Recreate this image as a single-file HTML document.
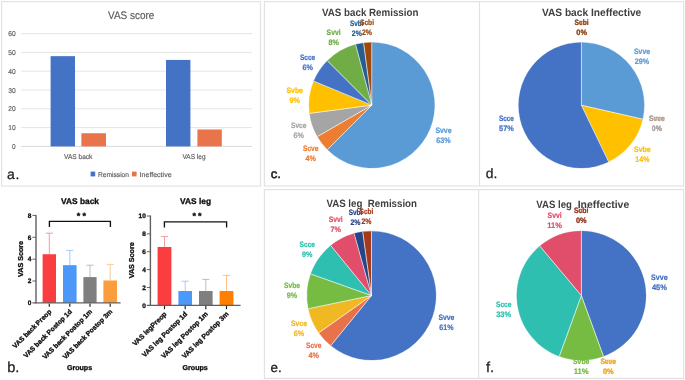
<!DOCTYPE html>
<html lang="en">
<head>
<meta charset="utf-8">
<title>VAS score figure</title>
<style>
html,body{margin:0;padding:0;background:#fff;}
body{width:685px;height:380px;overflow:hidden;}
svg{display:block;font-family:"Liberation Sans", Arial, sans-serif;}
.bt text{stroke:#0d0d0d;stroke-width:0.3px;fill:#0d0d0d;}
.at text{stroke:#595959;stroke-width:0.15px;}
</style>
</head>
<body>
<svg width="685" height="380" viewBox="0 0 685 380" text-rendering="geometricPrecision">
<rect width="685" height="380" fill="#ffffff"/>
<g fill="none" stroke="#e2e2e2" stroke-width="1.15">
<rect x="1.6" y="1.6" width="258.9" height="184.5"/>
<rect x="264.4" y="1.6" width="419.2" height="184.4"/>
<line x1="479.5" y1="1.6" x2="479.5" y2="186"/>
<rect x="264.4" y="189.6" width="419.2" height="188.8"/>
<line x1="478.6" y1="189.6" x2="478.6" y2="378.4"/>
</g>
<g id="panel-a" class="at">
<text x="131.20" y="19.00" font-size="11" fill="#595959" text-anchor="middle" textLength="46.40" lengthAdjust="spacingAndGlyphs">VAS score</text>
<line x1="21.00" y1="146.40" x2="252.00" y2="146.40" stroke="#d6d6d6" stroke-width="0.9"/>
<text x="15.60" y="148.90" font-size="7" fill="#595959" text-anchor="end" textLength="3.60" lengthAdjust="spacingAndGlyphs">0</text>
<line x1="21.00" y1="127.60" x2="252.00" y2="127.60" stroke="#e2e2e2" stroke-width="0.9"/>
<text x="15.60" y="130.10" font-size="7" fill="#595959" text-anchor="end" textLength="7.40" lengthAdjust="spacingAndGlyphs">10</text>
<line x1="21.00" y1="108.80" x2="252.00" y2="108.80" stroke="#e2e2e2" stroke-width="0.9"/>
<text x="15.60" y="111.30" font-size="7" fill="#595959" text-anchor="end" textLength="7.40" lengthAdjust="spacingAndGlyphs">20</text>
<line x1="21.00" y1="90.00" x2="252.00" y2="90.00" stroke="#e2e2e2" stroke-width="0.9"/>
<text x="15.60" y="92.50" font-size="7" fill="#595959" text-anchor="end" textLength="7.40" lengthAdjust="spacingAndGlyphs">30</text>
<line x1="21.00" y1="71.20" x2="252.00" y2="71.20" stroke="#e2e2e2" stroke-width="0.9"/>
<text x="15.60" y="73.70" font-size="7" fill="#595959" text-anchor="end" textLength="7.40" lengthAdjust="spacingAndGlyphs">40</text>
<line x1="21.00" y1="52.40" x2="252.00" y2="52.40" stroke="#e2e2e2" stroke-width="0.9"/>
<text x="15.60" y="54.90" font-size="7" fill="#595959" text-anchor="end" textLength="7.40" lengthAdjust="spacingAndGlyphs">50</text>
<line x1="21.00" y1="33.60" x2="252.00" y2="33.60" stroke="#e2e2e2" stroke-width="0.9"/>
<text x="15.60" y="36.10" font-size="7" fill="#595959" text-anchor="end" textLength="7.40" lengthAdjust="spacingAndGlyphs">60</text>
<rect x="50.60" y="56.16" width="24.40" height="90.24" fill="#4472C4"/>
<rect x="81.40" y="133.24" width="24.60" height="13.16" fill="#E9734A"/>
<rect x="166.00" y="59.92" width="24.40" height="86.48" fill="#4472C4"/>
<rect x="197.40" y="129.48" width="24.40" height="16.92" fill="#E9734A"/>
<text x="78.20" y="159.00" font-size="7" fill="#595959" text-anchor="middle" textLength="28.40" lengthAdjust="spacingAndGlyphs">VAS back</text>
<text x="194.00" y="159.00" font-size="7" fill="#595959" text-anchor="middle" textLength="23.00" lengthAdjust="spacingAndGlyphs">VAS leg</text>
<rect x="90.60" y="171.60" width="4.60" height="4.80" fill="#4472C4"/>
<text x="98.00" y="176.50" font-size="7" fill="#595959" textLength="31.00" lengthAdjust="spacingAndGlyphs">Remission</text>
<rect x="132.00" y="171.60" width="4.60" height="4.80" fill="#E9734A"/>
<text x="139.60" y="176.50" font-size="7" fill="#595959" textLength="32.00" lengthAdjust="spacingAndGlyphs">Ineffective</text>
</g>
<text x="7.1" y="178.7" font-size="14" fill="#1a1a1a" textLength="12.3" lengthAdjust="spacing" stroke="#1a1a1a" stroke-width="0.25">a.</text>
<g id="panel-b"><g class="bt">
<text x="80.00" y="204.00" font-size="8.3" fill="#1a1a1a" font-weight="bold" text-anchor="middle" textLength="38.00" lengthAdjust="spacingAndGlyphs">VAS back</text>
<line x1="49.30" y1="233.20" x2="49.30" y2="254.23" stroke="#F68086" stroke-width="0.8"/>
<line x1="45.70" y1="233.20" x2="52.90" y2="233.20" stroke="#F68086" stroke-width="0.8"/>
<rect x="42.60" y="254.23" width="13.40" height="48.67" fill="#FA3E40"/>
<line x1="49.30" y1="303.40" x2="49.30" y2="306.80" stroke="#1c1c1c" stroke-width="1.15"/>
<line x1="69.80" y1="250.40" x2="69.80" y2="265.17" stroke="#8FBFFA" stroke-width="0.8"/>
<line x1="66.20" y1="250.40" x2="73.40" y2="250.40" stroke="#8FBFFA" stroke-width="0.8"/>
<rect x="63.00" y="265.17" width="13.60" height="37.73" fill="#4C98F9"/>
<line x1="69.80" y1="303.40" x2="69.80" y2="306.80" stroke="#1c1c1c" stroke-width="1.15"/>
<line x1="90.00" y1="265.20" x2="90.00" y2="277.09" stroke="#ADADAD" stroke-width="0.8"/>
<line x1="86.40" y1="265.20" x2="93.60" y2="265.20" stroke="#ADADAD" stroke-width="0.8"/>
<rect x="83.40" y="277.09" width="13.20" height="25.81" fill="#7F7F7F"/>
<line x1="90.00" y1="303.40" x2="90.00" y2="306.80" stroke="#1c1c1c" stroke-width="1.15"/>
<line x1="110.20" y1="264.40" x2="110.20" y2="280.48" stroke="#FBBC7C" stroke-width="0.8"/>
<line x1="106.60" y1="264.40" x2="113.80" y2="264.40" stroke="#FBBC7C" stroke-width="0.8"/>
<rect x="103.40" y="280.48" width="13.60" height="22.42" fill="#FB9D3D"/>
<line x1="110.20" y1="303.40" x2="110.20" y2="306.80" stroke="#1c1c1c" stroke-width="1.15"/>
<line x1="36.00" y1="214.90" x2="36.00" y2="303.50" stroke="#606060" stroke-width="1.4"/>
<line x1="32.40" y1="302.90" x2="120.60" y2="302.90" stroke="#606060" stroke-width="1.3"/>
<text x="31.40" y="305.20" font-size="6.5" fill="#1a1a1a" font-weight="bold" text-anchor="end">0</text>
<line x1="32.40" y1="281.02" x2="36.00" y2="281.02" stroke="#606060" stroke-width="1"/>
<text x="31.40" y="283.32" font-size="6.5" fill="#1a1a1a" font-weight="bold" text-anchor="end">2</text>
<line x1="32.40" y1="259.15" x2="36.00" y2="259.15" stroke="#606060" stroke-width="1"/>
<text x="31.40" y="261.45" font-size="6.5" fill="#1a1a1a" font-weight="bold" text-anchor="end">4</text>
<line x1="32.40" y1="237.28" x2="36.00" y2="237.28" stroke="#606060" stroke-width="1"/>
<text x="31.40" y="239.58" font-size="6.5" fill="#1a1a1a" font-weight="bold" text-anchor="end">6</text>
<line x1="32.40" y1="215.40" x2="36.00" y2="215.40" stroke="#606060" stroke-width="1"/>
<text x="31.40" y="217.70" font-size="6.5" fill="#1a1a1a" font-weight="bold" text-anchor="end">8</text>
<path d="M49.40 227.00V221.40H110.40V227.00" fill="none" stroke="#111" stroke-width="1.35"/>
<text x="81.30" y="219.2" font-size="9" font-weight="bold" fill="#1a1a1a" text-anchor="middle" textLength="9.2" lengthAdjust="spacing">**</text>
<text transform="translate(23.40 259.00) rotate(-90)" font-size="7.15" font-weight="bold" fill="#1a1a1a" text-anchor="middle">VAS Score</text>
<text transform="translate(51.90 312.10) rotate(-45)" font-size="6.75" font-weight="bold" fill="#1a1a1a" text-anchor="end">VAS back Preop</text>
<text transform="translate(72.40 312.10) rotate(-45)" font-size="6.75" font-weight="bold" fill="#1a1a1a" text-anchor="end">VAS back Postop 1d</text>
<text transform="translate(92.60 312.10) rotate(-45)" font-size="6.75" font-weight="bold" fill="#1a1a1a" text-anchor="end">VAS back Postop 1m</text>
<text transform="translate(112.80 312.10) rotate(-45)" font-size="6.75" font-weight="bold" fill="#1a1a1a" text-anchor="end">VAS back Postop 3m</text>
<text x="79.50" y="370.40" font-size="7.1" fill="#1a1a1a" font-weight="bold" text-anchor="middle">Groups</text>
<text x="195.50" y="204.00" font-size="8.3" fill="#1a1a1a" font-weight="bold" text-anchor="middle" textLength="31.00" lengthAdjust="spacingAndGlyphs">VAS leg</text>
<line x1="164.50" y1="236.60" x2="164.50" y2="246.99" stroke="#F68086" stroke-width="0.8"/>
<line x1="160.90" y1="236.60" x2="168.10" y2="236.60" stroke="#F68086" stroke-width="0.8"/>
<rect x="157.60" y="246.99" width="13.80" height="58.31" fill="#FA3E40"/>
<line x1="164.50" y1="305.80" x2="164.50" y2="309.20" stroke="#1c1c1c" stroke-width="1.15"/>
<line x1="185.20" y1="281.20" x2="185.20" y2="291.01" stroke="#8FBFFA" stroke-width="0.8"/>
<line x1="181.60" y1="281.20" x2="188.80" y2="281.20" stroke="#8FBFFA" stroke-width="0.8"/>
<rect x="178.40" y="291.01" width="13.60" height="14.29" fill="#4C98F9"/>
<line x1="185.20" y1="305.80" x2="185.20" y2="309.20" stroke="#1c1c1c" stroke-width="1.15"/>
<line x1="205.80" y1="279.40" x2="205.80" y2="291.01" stroke="#ADADAD" stroke-width="0.8"/>
<line x1="202.20" y1="279.40" x2="209.40" y2="279.40" stroke="#ADADAD" stroke-width="0.8"/>
<rect x="199.00" y="291.01" width="13.60" height="14.29" fill="#7F7F7F"/>
<line x1="205.80" y1="305.80" x2="205.80" y2="309.20" stroke="#1c1c1c" stroke-width="1.15"/>
<line x1="226.50" y1="275.40" x2="226.50" y2="291.01" stroke="#FFB060" stroke-width="0.8"/>
<line x1="222.90" y1="275.40" x2="230.10" y2="275.40" stroke="#FFB060" stroke-width="0.8"/>
<rect x="219.60" y="291.01" width="13.80" height="14.29" fill="#FF8000"/>
<line x1="226.50" y1="305.80" x2="226.50" y2="309.20" stroke="#1c1c1c" stroke-width="1.15"/>
<line x1="150.40" y1="215.50" x2="150.40" y2="305.90" stroke="#606060" stroke-width="1.4"/>
<line x1="146.80" y1="305.30" x2="240.60" y2="305.30" stroke="#606060" stroke-width="1.3"/>
<text x="145.80" y="307.60" font-size="6.5" fill="#1a1a1a" font-weight="bold" text-anchor="end">0</text>
<line x1="146.80" y1="287.44" x2="150.40" y2="287.44" stroke="#606060" stroke-width="1"/>
<text x="145.80" y="289.74" font-size="6.5" fill="#1a1a1a" font-weight="bold" text-anchor="end">2</text>
<line x1="146.80" y1="269.58" x2="150.40" y2="269.58" stroke="#606060" stroke-width="1"/>
<text x="145.80" y="271.88" font-size="6.5" fill="#1a1a1a" font-weight="bold" text-anchor="end">4</text>
<line x1="146.80" y1="251.72" x2="150.40" y2="251.72" stroke="#606060" stroke-width="1"/>
<text x="145.80" y="254.02" font-size="6.5" fill="#1a1a1a" font-weight="bold" text-anchor="end">6</text>
<line x1="146.80" y1="233.86" x2="150.40" y2="233.86" stroke="#606060" stroke-width="1"/>
<text x="145.80" y="236.16" font-size="6.5" fill="#1a1a1a" font-weight="bold" text-anchor="end">8</text>
<line x1="146.80" y1="216.00" x2="150.40" y2="216.00" stroke="#606060" stroke-width="1"/>
<text x="145.80" y="218.30" font-size="6.5" fill="#1a1a1a" font-weight="bold" text-anchor="end">10</text>
<path d="M164.40 227.50V221.90H226.60V227.50" fill="none" stroke="#111" stroke-width="1.35"/>
<text x="197.00" y="219.2" font-size="9" font-weight="bold" fill="#1a1a1a" text-anchor="middle" textLength="9.2" lengthAdjust="spacing">**</text>
<text transform="translate(133.70 260.30) rotate(-90)" font-size="7.15" font-weight="bold" fill="#1a1a1a" text-anchor="middle">VAS Score</text>
<text transform="translate(167.10 314.50) rotate(-45)" font-size="6.9" font-weight="bold" fill="#1a1a1a" text-anchor="end">VAS legPreop</text>
<text transform="translate(187.80 314.50) rotate(-45)" font-size="6.9" font-weight="bold" fill="#1a1a1a" text-anchor="end">VAS leg Postop 1d</text>
<text transform="translate(208.40 314.50) rotate(-45)" font-size="6.9" font-weight="bold" fill="#1a1a1a" text-anchor="end">VAS leg Postop 1m</text>
<text transform="translate(229.10 314.50) rotate(-45)" font-size="6.9" font-weight="bold" fill="#1a1a1a" text-anchor="end">VAS leg Postop 3m</text>
<text x="195.20" y="370.40" font-size="7.1" fill="#1a1a1a" font-weight="bold" text-anchor="middle">Groups</text>
</g>
<text x="7.20" y="371.60" font-size="14.5" fill="#1a1a1a" textLength="12.20" lengthAdjust="spacingAndGlyphs" stroke="#1a1a1a" stroke-width="0.25">b.</text>
</g>
<g id="panel-c">
<text x="370.20" y="15.80" font-size="10.6" fill="#404040" font-weight="bold" text-anchor="middle" textLength="96.40" lengthAdjust="spacingAndGlyphs">VAS back Remission</text>
<text x="356.80" y="26.35" font-size="7.9" fill="#255E91" font-weight="bold" text-anchor="middle" textLength="13.50" lengthAdjust="spacingAndGlyphs" stroke="#255E91" stroke-width="0.22">Svbi</text>
<text x="356.80" y="36.35" font-size="7.9" fill="#255E91" font-weight="bold" text-anchor="middle" textLength="10.00" lengthAdjust="spacingAndGlyphs" stroke="#255E91" stroke-width="0.22">2%</text>
<text x="367.00" y="25.25" font-size="7.9" fill="#9E480E" font-weight="bold" text-anchor="middle" textLength="14.00" lengthAdjust="spacingAndGlyphs" stroke="#9E480E" stroke-width="0.22">Scbi</text>
<text x="367.00" y="35.25" font-size="7.9" fill="#9E480E" font-weight="bold" text-anchor="middle" textLength="10.00" lengthAdjust="spacingAndGlyphs" stroke="#9E480E" stroke-width="0.22">2%</text>
<text x="333.60" y="35.35" font-size="7.9" fill="#70AD47" font-weight="bold" text-anchor="middle" textLength="14.00" lengthAdjust="spacingAndGlyphs" stroke="#70AD47" stroke-width="0.22">Svvi</text>
<text x="333.60" y="45.35" font-size="7.9" fill="#70AD47" font-weight="bold" text-anchor="middle" textLength="10.40" lengthAdjust="spacingAndGlyphs" stroke="#70AD47" stroke-width="0.22">8%</text>
<text x="307.60" y="60.05" font-size="7.9" fill="#4472C4" font-weight="bold" text-anchor="middle" textLength="15.20" lengthAdjust="spacingAndGlyphs" stroke="#4472C4" stroke-width="0.22">Scce</text>
<text x="307.60" y="70.05" font-size="7.9" fill="#4472C4" font-weight="bold" text-anchor="middle" textLength="10.40" lengthAdjust="spacingAndGlyphs" stroke="#4472C4" stroke-width="0.22">6%</text>
<text x="294.70" y="92.85" font-size="7.9" fill="#FFC000" font-weight="bold" text-anchor="middle" textLength="16.60" lengthAdjust="spacingAndGlyphs" stroke="#FFC000" stroke-width="0.22">Svbe</text>
<text x="294.70" y="102.85" font-size="7.9" fill="#FFC000" font-weight="bold" text-anchor="middle" textLength="10.40" lengthAdjust="spacingAndGlyphs" stroke="#FFC000" stroke-width="0.22">9%</text>
<text x="298.70" y="128.05" font-size="7.9" fill="#A5A5A5" font-weight="bold" text-anchor="middle" textLength="15.40" lengthAdjust="spacingAndGlyphs" stroke="#A5A5A5" stroke-width="0.22">Svce</text>
<text x="298.70" y="138.05" font-size="7.9" fill="#A5A5A5" font-weight="bold" text-anchor="middle" textLength="10.40" lengthAdjust="spacingAndGlyphs" stroke="#A5A5A5" stroke-width="0.22">6%</text>
<text x="310.70" y="150.95" font-size="7.9" fill="#ED7D31" font-weight="bold" text-anchor="middle" textLength="15.40" lengthAdjust="spacingAndGlyphs" stroke="#ED7D31" stroke-width="0.22">Scve</text>
<text x="310.70" y="160.95" font-size="7.9" fill="#ED7D31" font-weight="bold" text-anchor="middle" textLength="10.40" lengthAdjust="spacingAndGlyphs" stroke="#ED7D31" stroke-width="0.22">4%</text>
<text x="443.50" y="132.85" font-size="7.9" fill="#5B9BD5" font-weight="bold" text-anchor="middle" textLength="16.20" lengthAdjust="spacingAndGlyphs" stroke="#5B9BD5" stroke-width="0.22">Svve</text>
<text x="443.50" y="142.85" font-size="7.9" fill="#5B9BD5" font-weight="bold" text-anchor="middle" textLength="14.40" lengthAdjust="spacingAndGlyphs" stroke="#5B9BD5" stroke-width="0.22">63%</text>
<path d="M371.80 105.20L371.80 42.40A62.8 62.8 0 1 1 327.39 149.61Z" fill="#5B9BD5" stroke="#5B9BD5" stroke-width="0.3"/>
<path d="M371.80 105.20L327.39 149.61A62.8 62.8 0 0 1 317.41 136.60Z" fill="#ED7D31" stroke="#ED7D31" stroke-width="0.3"/>
<path d="M371.80 105.20L317.41 136.60A62.8 62.8 0 0 1 309.54 113.40Z" fill="#A5A5A5" stroke="#A5A5A5" stroke-width="0.3"/>
<path d="M371.80 105.20L309.54 113.40A62.8 62.8 0 0 1 313.78 81.17Z" fill="#FFC000" stroke="#FFC000" stroke-width="0.3"/>
<path d="M371.80 105.20L313.78 81.17A62.8 62.8 0 0 1 327.39 60.79Z" fill="#4472C4" stroke="#4472C4" stroke-width="0.3"/>
<path d="M371.80 105.20L327.39 60.79A62.8 62.8 0 0 1 355.55 44.54Z" fill="#70AD47" stroke="#70AD47" stroke-width="0.3"/>
<path d="M371.80 105.20L355.55 44.54A62.8 62.8 0 0 1 363.60 42.94Z" fill="#255E91" stroke="#255E91" stroke-width="0.3"/>
<path d="M371.80 105.20L363.60 42.94A62.8 62.8 0 0 1 371.80 42.40Z" fill="#9E480E" stroke="#9E480E" stroke-width="0.3"/>
<path d="M371.80 105.20L371.80 42.40M371.80 105.20L327.39 149.61M371.80 105.20L317.41 136.60M371.80 105.20L309.54 113.40M371.80 105.20L313.78 81.17M371.80 105.20L327.39 60.79M371.80 105.20L355.55 44.54M371.80 105.20L363.60 42.94" fill="none" stroke="#fff" stroke-width="0.75" stroke-linecap="butt" stroke-opacity="0.92"/>
<text x="270.70" y="178.40" font-size="12.4" fill="#1a1a1a" textLength="10.30" lengthAdjust="spacingAndGlyphs" stroke="#1a1a1a" stroke-width="0.55">c.</text>
</g>
<g id="panel-d">
<text x="591.60" y="15.80" font-size="10.6" fill="#404040" font-weight="bold" text-anchor="middle" textLength="99.40" lengthAdjust="spacingAndGlyphs">VAS back Ineffective</text>
<text x="581.60" y="24.85" font-size="7.9" fill="#255E91" font-weight="bold" text-anchor="middle" textLength="14.00" lengthAdjust="spacingAndGlyphs" opacity="0.6">Svbi</text>
<text x="581.60" y="34.85" font-size="7.9" fill="#255E91" font-weight="bold" text-anchor="middle" textLength="10.60" lengthAdjust="spacingAndGlyphs" opacity="0.6">0%</text>
<text x="581.60" y="24.85" font-size="7.9" fill="#9E480E" font-weight="bold" text-anchor="middle" textLength="14.00" lengthAdjust="spacingAndGlyphs" stroke="#9E480E" stroke-width="0.22">Scbi</text>
<text x="581.60" y="34.85" font-size="7.9" fill="#9E480E" font-weight="bold" text-anchor="middle" textLength="10.60" lengthAdjust="spacingAndGlyphs" stroke="#9E480E" stroke-width="0.22">0%</text>
<text x="642.00" y="54.05" font-size="7.9" fill="#5B9BD5" font-weight="bold" text-anchor="middle" textLength="16.00" lengthAdjust="spacingAndGlyphs" stroke="#5B9BD5" stroke-width="0.22">Svve</text>
<text x="642.00" y="64.05" font-size="7.9" fill="#5B9BD5" font-weight="bold" text-anchor="middle" textLength="14.40" lengthAdjust="spacingAndGlyphs" stroke="#5B9BD5" stroke-width="0.22">29%</text>
<text x="656.80" y="120.85" font-size="7.9" fill="#ED7D31" font-weight="bold" text-anchor="middle" textLength="15.60" lengthAdjust="spacingAndGlyphs" opacity="0.8">Scve</text>
<text x="656.80" y="130.85" font-size="7.9" fill="#ED7D31" font-weight="bold" text-anchor="middle" textLength="10.00" lengthAdjust="spacingAndGlyphs" opacity="0.8">0%</text>
<text x="656.80" y="120.85" font-size="7.9" fill="#A5A5A5" font-weight="bold" text-anchor="middle" textLength="15.60" lengthAdjust="spacingAndGlyphs" stroke="#A5A5A5" stroke-width="0.22">Svce</text>
<text x="656.80" y="130.85" font-size="7.9" fill="#A5A5A5" font-weight="bold" text-anchor="middle" textLength="10.00" lengthAdjust="spacingAndGlyphs" stroke="#A5A5A5" stroke-width="0.22">0%</text>
<text x="642.40" y="151.85" font-size="7.9" fill="#FFC000" font-weight="bold" text-anchor="middle" textLength="16.60" lengthAdjust="spacingAndGlyphs" stroke="#FFC000" stroke-width="0.22">Svbe</text>
<text x="642.40" y="161.85" font-size="7.9" fill="#FFC000" font-weight="bold" text-anchor="middle" textLength="14.20" lengthAdjust="spacingAndGlyphs" stroke="#FFC000" stroke-width="0.22">14%</text>
<text x="506.40" y="120.85" font-size="7.9" fill="#4472C4" font-weight="bold" text-anchor="middle" textLength="15.00" lengthAdjust="spacingAndGlyphs" stroke="#4472C4" stroke-width="0.22">Scce</text>
<text x="506.40" y="130.85" font-size="7.9" fill="#4472C4" font-weight="bold" text-anchor="middle" textLength="14.60" lengthAdjust="spacingAndGlyphs" stroke="#4472C4" stroke-width="0.22">57%</text>
<path d="M581.40 105.20L581.40 42.40A62.8 62.8 0 0 1 642.63 119.17Z" fill="#5B9BD5" stroke="#5B9BD5" stroke-width="0.3"/>
<path d="M581.40 105.20L642.63 119.17A62.8 62.8 0 0 1 608.65 161.78Z" fill="#FFC000" stroke="#FFC000" stroke-width="0.3"/>
<path d="M581.40 105.20L608.65 161.78A62.8 62.8 0 1 1 581.40 42.40Z" fill="#4472C4" stroke="#4472C4" stroke-width="0.3"/>
<path d="M581.40 105.20L581.40 42.40M581.40 105.20L642.63 119.17M581.40 105.20L608.65 161.78" fill="none" stroke="#fff" stroke-width="0.75" stroke-linecap="butt" stroke-opacity="0.92"/>
<text x="485.80" y="178.40" font-size="13.5" fill="#1a1a1a" textLength="11.60" lengthAdjust="spacingAndGlyphs" stroke="#1a1a1a" stroke-width="0.25">d.</text>
</g>
<g id="panel-e">
<text x="371.70" y="207.20" font-size="10.6" fill="#404040" font-weight="bold" text-anchor="middle" textLength="90.60" lengthAdjust="spacingAndGlyphs" xml:space="preserve">VAS leg  Remission</text>
<text x="355.50" y="215.45" font-size="7.9" fill="#264488" font-weight="bold" text-anchor="middle" textLength="13.50" lengthAdjust="spacingAndGlyphs" stroke="#264488" stroke-width="0.22">Svbi</text>
<text x="355.50" y="225.45" font-size="7.9" fill="#264488" font-weight="bold" text-anchor="middle" textLength="10.00" lengthAdjust="spacingAndGlyphs" stroke="#264488" stroke-width="0.22">2%</text>
<text x="366.40" y="213.95" font-size="7.9" fill="#A5391B" font-weight="bold" text-anchor="middle" textLength="13.60" lengthAdjust="spacingAndGlyphs" stroke="#A5391B" stroke-width="0.22">Scbi</text>
<text x="366.40" y="223.95" font-size="7.9" fill="#A5391B" font-weight="bold" text-anchor="middle" textLength="10.00" lengthAdjust="spacingAndGlyphs" stroke="#A5391B" stroke-width="0.22">2%</text>
<text x="335.70" y="222.25" font-size="7.9" fill="#E04E6B" font-weight="bold" text-anchor="middle" textLength="14.00" lengthAdjust="spacingAndGlyphs" stroke="#E04E6B" stroke-width="0.22">Svvi</text>
<text x="335.70" y="232.25" font-size="7.9" fill="#E04E6B" font-weight="bold" text-anchor="middle" textLength="10.40" lengthAdjust="spacingAndGlyphs" stroke="#E04E6B" stroke-width="0.22">7%</text>
<text x="307.30" y="247.25" font-size="7.9" fill="#2EBFB0" font-weight="bold" text-anchor="middle" textLength="15.40" lengthAdjust="spacingAndGlyphs" stroke="#2EBFB0" stroke-width="0.22">Scce</text>
<text x="307.30" y="257.25" font-size="7.9" fill="#2EBFB0" font-weight="bold" text-anchor="middle" textLength="10.40" lengthAdjust="spacingAndGlyphs" stroke="#2EBFB0" stroke-width="0.22">9%</text>
<text x="292.00" y="287.85" font-size="7.9" fill="#76BC43" font-weight="bold" text-anchor="middle" textLength="16.00" lengthAdjust="spacingAndGlyphs" stroke="#76BC43" stroke-width="0.22">Svbe</text>
<text x="292.00" y="297.85" font-size="7.9" fill="#76BC43" font-weight="bold" text-anchor="middle" textLength="10.40" lengthAdjust="spacingAndGlyphs" stroke="#76BC43" stroke-width="0.22">9%</text>
<text x="299.00" y="325.85" font-size="7.9" fill="#F0B822" font-weight="bold" text-anchor="middle" textLength="16.00" lengthAdjust="spacingAndGlyphs" stroke="#F0B822" stroke-width="0.22">Svce</text>
<text x="299.00" y="335.85" font-size="7.9" fill="#F0B822" font-weight="bold" text-anchor="middle" textLength="10.40" lengthAdjust="spacingAndGlyphs" stroke="#F0B822" stroke-width="0.22">6%</text>
<text x="313.70" y="347.85" font-size="7.9" fill="#E8734A" font-weight="bold" text-anchor="middle" textLength="15.40" lengthAdjust="spacingAndGlyphs" stroke="#E8734A" stroke-width="0.22">Scve</text>
<text x="313.70" y="357.85" font-size="7.9" fill="#E8734A" font-weight="bold" text-anchor="middle" textLength="10.40" lengthAdjust="spacingAndGlyphs" stroke="#E8734A" stroke-width="0.22">4%</text>
<text x="446.40" y="320.05" font-size="7.9" fill="#4472C4" font-weight="bold" text-anchor="middle" textLength="16.00" lengthAdjust="spacingAndGlyphs" stroke="#4472C4" stroke-width="0.22">Svve</text>
<text x="446.40" y="330.05" font-size="7.9" fill="#4472C4" font-weight="bold" text-anchor="middle" textLength="14.20" lengthAdjust="spacingAndGlyphs" stroke="#4472C4" stroke-width="0.22">61%</text>
<path d="M371.50 295.60L371.50 231.15A64.45 64.45 0 1 1 330.83 345.59Z" fill="#4472C4" stroke="#4472C4" stroke-width="0.3"/>
<path d="M371.50 295.60L330.83 345.59A64.45 64.45 0 0 1 318.85 332.77Z" fill="#E8734A" stroke="#E8734A" stroke-width="0.3"/>
<path d="M371.50 295.60L318.85 332.77A64.45 64.45 0 0 1 308.40 308.71Z" fill="#F0B822" stroke="#F0B822" stroke-width="0.3"/>
<path d="M371.50 295.60L308.40 308.71A64.45 64.45 0 0 1 310.77 274.02Z" fill="#76BC43" stroke="#76BC43" stroke-width="0.3"/>
<path d="M371.50 295.60L310.77 274.02A64.45 64.45 0 0 1 330.83 245.61Z" fill="#2EBFB0" stroke="#2EBFB0" stroke-width="0.3"/>
<path d="M371.50 295.60L330.83 245.61A64.45 64.45 0 0 1 354.11 233.54Z" fill="#E04E6B" stroke="#E04E6B" stroke-width="0.3"/>
<path d="M371.50 295.60L354.11 233.54A64.45 64.45 0 0 1 362.72 231.75Z" fill="#264488" stroke="#264488" stroke-width="0.3"/>
<path d="M371.50 295.60L362.72 231.75A64.45 64.45 0 0 1 371.50 231.15Z" fill="#A5391B" stroke="#A5391B" stroke-width="0.3"/>
<path d="M371.50 295.60L371.50 231.15M371.50 295.60L330.83 345.59M371.50 295.60L318.85 332.77M371.50 295.60L308.40 308.71M371.50 295.60L310.77 274.02M371.50 295.60L330.83 245.61M371.50 295.60L354.11 233.54M371.50 295.60L362.72 231.75" fill="none" stroke="#fff" stroke-width="0.75" stroke-linecap="butt" stroke-opacity="0.92"/>
<text x="270.50" y="371.80" font-size="13.4" fill="#1a1a1a" textLength="11.20" lengthAdjust="spacingAndGlyphs" stroke="#1a1a1a" stroke-width="0.25">e.</text>
</g>
<g id="panel-f">
<text y="207.9" font-size="10.6" font-weight="bold" fill="#404040" xml:space="preserve"><tspan x="536.3" textLength="35.6" lengthAdjust="spacingAndGlyphs">VAS leg</tspan><tspan x="571.9" textLength="57.3" lengthAdjust="spacingAndGlyphs">  Ineffective</tspan></text>
<text x="554.60" y="218.35" font-size="7.9" fill="#E04E6B" font-weight="bold" text-anchor="middle" textLength="14.00" lengthAdjust="spacingAndGlyphs" stroke="#E04E6B" stroke-width="0.22">Svvi</text>
<text x="554.60" y="228.35" font-size="7.9" fill="#E04E6B" font-weight="bold" text-anchor="middle" textLength="14.60" lengthAdjust="spacingAndGlyphs" stroke="#E04E6B" stroke-width="0.22">11%</text>
<text x="581.20" y="213.35" font-size="7.9" fill="#264488" font-weight="bold" text-anchor="middle" textLength="14.40" lengthAdjust="spacingAndGlyphs" opacity="0.5">Svbi</text>
<text x="581.20" y="223.35" font-size="7.9" fill="#264488" font-weight="bold" text-anchor="middle" textLength="10.60" lengthAdjust="spacingAndGlyphs" opacity="0.5">0%</text>
<text x="581.20" y="213.35" font-size="7.9" fill="#A5391B" font-weight="bold" text-anchor="middle" textLength="14.40" lengthAdjust="spacingAndGlyphs" stroke="#A5391B" stroke-width="0.22">Scbi</text>
<text x="581.20" y="223.35" font-size="7.9" fill="#A5391B" font-weight="bold" text-anchor="middle" textLength="10.60" lengthAdjust="spacingAndGlyphs" stroke="#A5391B" stroke-width="0.22">0%</text>
<text x="659.40" y="279.85" font-size="7.9" fill="#4472C4" font-weight="bold" text-anchor="middle" textLength="16.60" lengthAdjust="spacingAndGlyphs" stroke="#4472C4" stroke-width="0.22">Svve</text>
<text x="659.40" y="289.85" font-size="7.9" fill="#4472C4" font-weight="bold" text-anchor="middle" textLength="15.00" lengthAdjust="spacingAndGlyphs" stroke="#4472C4" stroke-width="0.22">45%</text>
<text x="503.70" y="307.35" font-size="7.9" fill="#2EBFB0" font-weight="bold" text-anchor="middle" textLength="15.40" lengthAdjust="spacingAndGlyphs" stroke="#2EBFB0" stroke-width="0.22">Scce</text>
<text x="503.70" y="317.35" font-size="7.9" fill="#2EBFB0" font-weight="bold" text-anchor="middle" textLength="15.00" lengthAdjust="spacingAndGlyphs" stroke="#2EBFB0" stroke-width="0.22">33%</text>
<text x="581.20" y="364.15" font-size="7.9" fill="#76BC43" font-weight="bold" text-anchor="middle" textLength="16.40" lengthAdjust="spacingAndGlyphs" stroke="#76BC43" stroke-width="0.22">Svbe</text>
<text x="581.20" y="374.15" font-size="7.9" fill="#76BC43" font-weight="bold" text-anchor="middle" textLength="15.00" lengthAdjust="spacingAndGlyphs" stroke="#76BC43" stroke-width="0.22">11%</text>
<text x="608.20" y="363.65" font-size="7.9" fill="#E8734A" font-weight="bold" text-anchor="middle" textLength="15.60" lengthAdjust="spacingAndGlyphs" opacity="0.8">Scve</text>
<text x="608.20" y="373.65" font-size="7.9" fill="#E8734A" font-weight="bold" text-anchor="middle" textLength="10.60" lengthAdjust="spacingAndGlyphs" opacity="0.8">0%</text>
<text x="608.20" y="363.65" font-size="7.9" fill="#F0B822" font-weight="bold" text-anchor="middle" textLength="15.60" lengthAdjust="spacingAndGlyphs" stroke="#F0B822" stroke-width="0.22">Svce</text>
<text x="608.20" y="373.65" font-size="7.9" fill="#F0B822" font-weight="bold" text-anchor="middle" textLength="10.60" lengthAdjust="spacingAndGlyphs" stroke="#F0B822" stroke-width="0.22">0%</text>
<path d="M581.40 295.60L581.40 231.00A64.6 64.6 0 0 1 603.49 356.30Z" fill="#4472C4" stroke="#4472C4" stroke-width="0.3"/>
<path d="M581.40 295.60L603.49 356.30A64.6 64.6 0 0 1 559.31 356.30Z" fill="#76BC43" stroke="#76BC43" stroke-width="0.3"/>
<path d="M581.40 295.60L559.31 356.30A64.6 64.6 0 0 1 539.88 246.11Z" fill="#2EBFB0" stroke="#2EBFB0" stroke-width="0.3"/>
<path d="M581.40 295.60L539.88 246.11A64.6 64.6 0 0 1 581.40 231.00Z" fill="#E04E6B" stroke="#E04E6B" stroke-width="0.3"/>
<path d="M581.40 295.60L581.40 231.00M581.40 295.60L603.49 356.30M581.40 295.60L559.31 356.30M581.40 295.60L539.88 246.11" fill="none" stroke="#fff" stroke-width="0.75" stroke-linecap="butt" stroke-opacity="0.92"/>
<text x="485.90" y="372.00" font-size="14.5" fill="#1a1a1a" textLength="8.20" lengthAdjust="spacingAndGlyphs" stroke="#1a1a1a" stroke-width="0.25">f.</text>
</g>
</svg>
</body>
</html>
